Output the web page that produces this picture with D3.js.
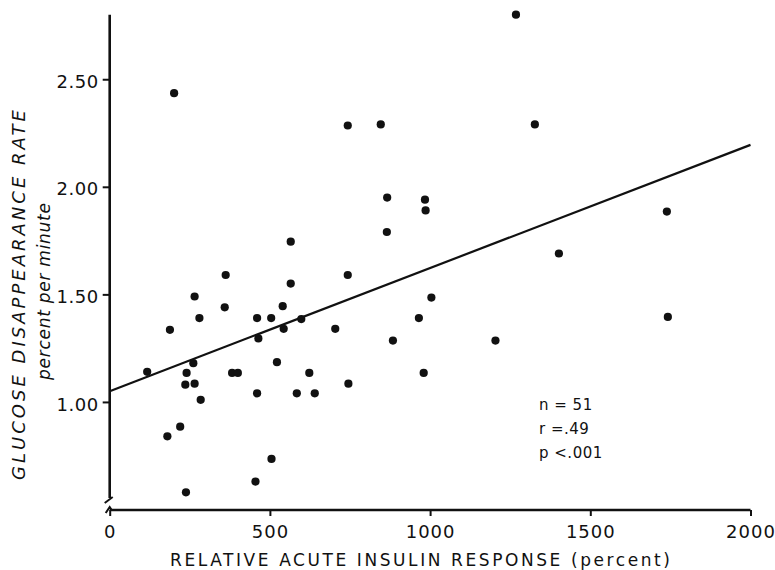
<!DOCTYPE html>
<html>
<head>
<meta charset="utf-8">
<script src="https://cdn.jsdelivr.net/npm/d3@7"></script>
<style>
  body { margin: 0; background: #fff; }
  svg { display: block; }
  text { font-family: "DejaVu Sans", sans-serif; fill: #111; }
</style>
</head>
<body>
<div id="chart"></div>
<script>
// data
const insulinResponse = [
  117, 180, 188, 201, 220, 236, 238, 240, 261, 265, 265, 280, 284,
  359, 362, 382, 400, 455, 460, 460, 464, 504, 505, 522, 540, 543,
  565, 565, 584, 598, 623, 640, 704, 743, 743, 745, 846, 865, 866,
  884, 965, 980, 984, 986, 1004, 1204, 1268, 1327, 1402, 1739, 1742
];
const glucoseRate = [
  1.14, 0.84, 1.335, 2.435, 0.885, 1.08, 0.58, 1.135, 1.18, 1.49, 1.085, 1.39, 1.01,
  1.44, 1.59, 1.135, 1.135, 0.63, 1.39, 1.04, 1.295, 1.39, 0.735, 1.185, 1.445, 1.34,
  1.55, 1.745, 1.04, 1.385, 1.135, 1.04, 1.34, 1.59, 2.285, 1.085, 2.29, 1.79, 1.95,
  1.285, 1.39, 1.135, 1.94, 1.89, 1.485, 1.285, 2.80, 2.29, 1.69, 1.885, 1.395
];
const xTicks = [0, 500, 1000, 1500, 2000];
const yTicks = [1.0, 1.5, 2.0, 2.5];
// regression line end points
const fitX = [0, 2000];
const fitY = [1.05, 2.195];
const statsText = ["n = 51", "r =.49", "p <.001"];

const width = 775, height = 570;

const svg = d3.select("#chart").append("svg")
  .attr("width", width).attr("height", height);

const x = d3.scaleLinear().domain([0, 2000]).range([109.7, 750.5]);
const y = d3.scaleLinear().domain([0.5, 2.8]).range([509.5, 14.7]);

const axisY0 = 510;   // x axis position
const axisX0 = x(0);  // y axis position

// y axis ticks + labels
const gy = svg.append("g")
  .attr("transform", `translate(${axisX0},0)`)
  .call(d3.axisLeft(y).tickValues(yTicks).tickFormat(d3.format(".2f"))
    .tickSize(7).tickSizeOuter(0).tickPadding(4));
gy.select(".domain").remove();
gy.selectAll(".tick line").attr("stroke", "#111").attr("stroke-width", 2);
gy.selectAll(".tick text")
  .attr("dy", "0.45em")
  .style("font-size", "18px").attr("letter-spacing", "0.5px").attr("fill", "#111");

// x axis ticks + labels
const gx = svg.append("g")
  .attr("transform", `translate(0,${axisY0})`)
  .call(d3.axisBottom(x).tickValues(xTicks).tickFormat(d3.format("d"))
    .tickSize(6).tickSizeOuter(0).tickPadding(9));
gx.select(".domain").remove();
gx.selectAll(".tick line").attr("stroke", "#111").attr("stroke-width", 2);
gx.selectAll(".tick text")
  .style("font-size", "18px").attr("letter-spacing", "1px").attr("fill", "#111");

// axis lines, with the break at the bottom of the y axis
svg.append("line")
  .attr("x1", axisX0).attr("x2", axisX0)
  .attr("y1", y(2.8)).attr("y2", 498)
  .attr("stroke", "#111").attr("stroke-width", 2.6);
svg.append("line")
  .attr("x1", axisX0 - 5).attr("y1", 503).attr("x2", axisX0 + 3).attr("y2", 497)
  .attr("stroke", "#111").attr("stroke-width", 2);
svg.append("path")
  .attr("d", `M${axisX0 - 4},${axisY0 + 3} L${axisX0},${axisY0 - 3} L${axisX0 + 2},${axisY0}`)
  .attr("fill", "none").attr("stroke", "#111").attr("stroke-width", 2);
svg.append("line")
  .attr("x1", axisX0).attr("x2", x(2000))
  .attr("y1", axisY0).attr("y2", axisY0)
  .attr("stroke", "#111").attr("stroke-width", 2.6);

// regression line
svg.append("path")
  .datum(d3.zip(fitX, fitY))
  .attr("d", d3.line().x(d => x(d[0])).y(d => y(d[1])))
  .attr("fill", "none").attr("stroke", "#111").attr("stroke-width", 2.2);

// points
svg.append("g").selectAll("circle")
  .data(d3.zip(insulinResponse, glucoseRate))
  .join("circle")
  .attr("cx", d => x(d[0]))
  .attr("cy", d => y(d[1]))
  .attr("r", 4.1)
  .attr("fill", "#111");

// stats text
svg.append("g").selectAll("text")
  .data(statsText)
  .join("text")
  .attr("x", 539)
  .attr("y", (d, i) => 410 + i * 24)
  .style("font-size", "15px")
  .attr("letter-spacing", "0.5px")
  .text(d => d);

// axis titles
svg.append("text")
  .attr("x", 170).attr("y", 566)
  .attr("textLength", 500).attr("lengthAdjust", "spacing")
  .style("font-size", "17px")
  .text("RELATIVE ACUTE INSULIN RESPONSE (percent)");

svg.append("text")
  .attr("transform", "translate(25,480) rotate(-90)")
  .attr("textLength", 370).attr("lengthAdjust", "spacing")
  .style("font-size", "18px").style("font-style", "italic")
  .text("GLUCOSE DISAPPEARANCE RATE");

svg.append("text")
  .attr("transform", "translate(50,380) rotate(-90)")
  .attr("textLength", 177).attr("lengthAdjust", "spacing")
  .style("font-size", "17px").style("font-style", "italic")
  .text("percent per minute");
</script>
</body>
</html>
